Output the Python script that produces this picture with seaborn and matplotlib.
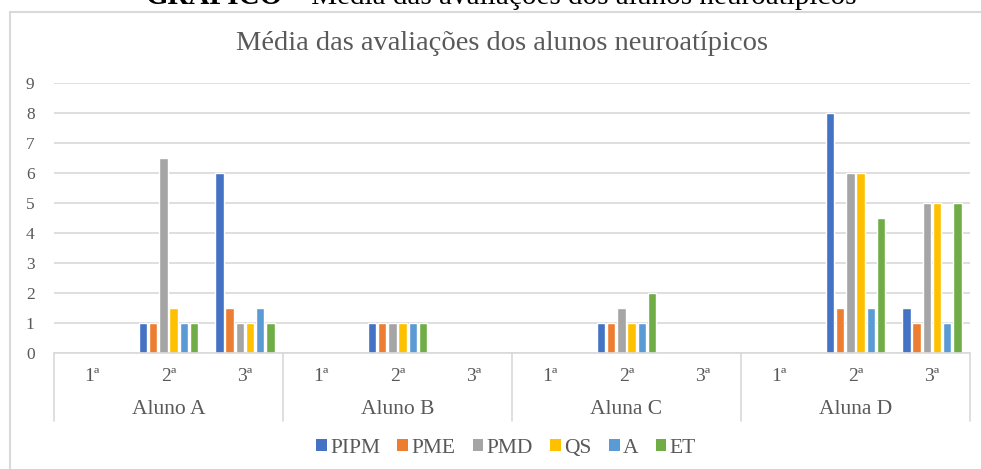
import matplotlib
matplotlib.use("Agg")
import matplotlib.pyplot as plt
import matplotlib.transforms as mtransforms
from matplotlib.patches import Rectangle, Patch
import pandas as pd
import seaborn as sns

# Data
alunos = ["Aluno A", "Aluno B", "Aluna C", "Aluna D"]
avaliacoes = ["1ª", "2ª", "3ª"]
series = ["PIPM", "PME", "PMD", "QS", "A", "ET"]
colors = ["#4472C4", "#ED7D31", "#A5A5A5", "#FFC000", "#5B9BD5", "#70AD47"]

# (aluno, avaliacao) -> values per series; missing pairs have no bars
a_2 = [1, 1, 6.5, 1.5, 1, 1]
a_3 = [6, 1.5, 1, 1, 1.5, 1]
b_2 = [1, 1, 1, 1, 1, 1]
c_2 = [1, 1, 1.5, 1, 1, 2]
d_2 = [8, 1.5, 6, 6, 1.5, 4.5]
d_3 = [1.5, 1, 5, 5, 1, 5]

values = {
    ("Aluno A", "2ª"): a_2,
    ("Aluno A", "3ª"): a_3,
    ("Aluno B", "2ª"): b_2,
    ("Aluna C", "2ª"): c_2,
    ("Aluna D", "2ª"): d_2,
    ("Aluna D", "3ª"): d_3,
}

order = [f"{al}|{av}" for al in alunos for av in avaliacoes]
rows = []
for (al, av), vals in values.items():
    for s, v in zip(series, vals):
        rows.append({"cat": f"{al}|{av}", "serie": s, "valor": v})
df = pd.DataFrame(rows)

sns.set_style("white")
plt.rcParams["font.family"] = ["Liberation Serif", "DejaVu Serif"]
gray_txt = "#595959"
grid_col = "#D9D9D9"

fig = plt.figure(figsize=(9.81, 4.69), dpi=100)
W, H = 981, 469
ax = fig.add_axes([54 / W, (H - 353) / H, (970 - 54) / W, (353 - 83) / H])

sns.barplot(data=df, x="cat", y="valor", hue="serie", order=order,
            hue_order=series, palette=colors, width=0.8, gap=0.17,
            errorbar=None, saturation=1, ax=ax, legend=False)

ax.set_ylim(0, 9)
ax.set_xlim(-0.5, len(order) - 0.5)
ax.set_yticks(range(10))
ax.yaxis.grid(True, color=grid_col, linewidth=1.2)
ax.set_axisbelow(True)
for side in ["top", "right", "left"]:
    ax.spines[side].set_visible(False)
ax.spines["bottom"].set_color(grid_col)
ax.spines["bottom"].set_linewidth(1.2)
ax.tick_params(axis="y", length=0, labelsize=12.5, colors=gray_txt, pad=14)
ax.tick_params(axis="x", length=0, labelsize=14, colors=gray_txt, pad=11)
ax.set_xticks(range(len(order)))
ax.set_xticklabels([c.split("|")[1] for c in order])
ax.set_xlabel("")
ax.set_ylabel("")

# grouped category axis: separators and student labels
trans = mtransforms.blended_transform_factory(ax.transData, ax.transAxes)
depth = 68 / (353 - 83)
for i in range(len(alunos) + 1):
    xb = i * 3 - 0.5
    ax.plot([xb, xb], [0, -depth], color=grid_col, lw=1.2,
            transform=trans, clip_on=False)
for i, al in enumerate(alunos):
    ax.text(i * 3 + 1, -(409 - 353) / (353 - 83), al, transform=trans,
            ha="center", va="center", fontsize=15.5, color=gray_txt)

# legend at the bottom, square markers like Excel
handles = [Patch(facecolor=c, edgecolor="none") for c in colors]
fig.legend(handles, series, loc="center", bbox_to_anchor=(506 / W, (H - 448) / H),
           ncol=6, frameon=False, fontsize=15.5, handlelength=0.5, handleheight=0.5,
           handletextpad=0.15, columnspacing=0.8, labelcolor=gray_txt)

# chart title
fig.text(502 / W, (H - 44) / H, "Média das avaliações dos alunos neuroatípicos",
         ha="center", va="center", fontsize=20.5, color=gray_txt)

# cut-off caption above the chart: bold prefix + regular text, ending near x=857
t_bold = fig.text(0, (H - 4) / H, "GRÁFICO", ha="left", va="baseline",
                  fontsize=21, fontweight="bold", color="black")
t_rest = fig.text(0, (H - 4) / H, " – Média das avaliações dos alunos neuroatípicos",
                  ha="left", va="baseline", fontsize=21, color="black")
fig.canvas.draw()
rend = fig.canvas.get_renderer()
w_bold = t_bold.get_window_extent(rend).width
w_rest = t_rest.get_window_extent(rend).width
x_end = 857
t_rest.set_x((x_end - w_rest) / W)
t_bold.set_x((x_end - w_rest - w_bold) / W)

# chart area border
fig.patches.append(Rectangle((10 / W, -0.05), 1.0, (H - 12) / H + 0.05,
                             transform=fig.transFigure, fill=False,
                             edgecolor=grid_col, linewidth=1.5))

fig.savefig("out.png", dpi=100)
